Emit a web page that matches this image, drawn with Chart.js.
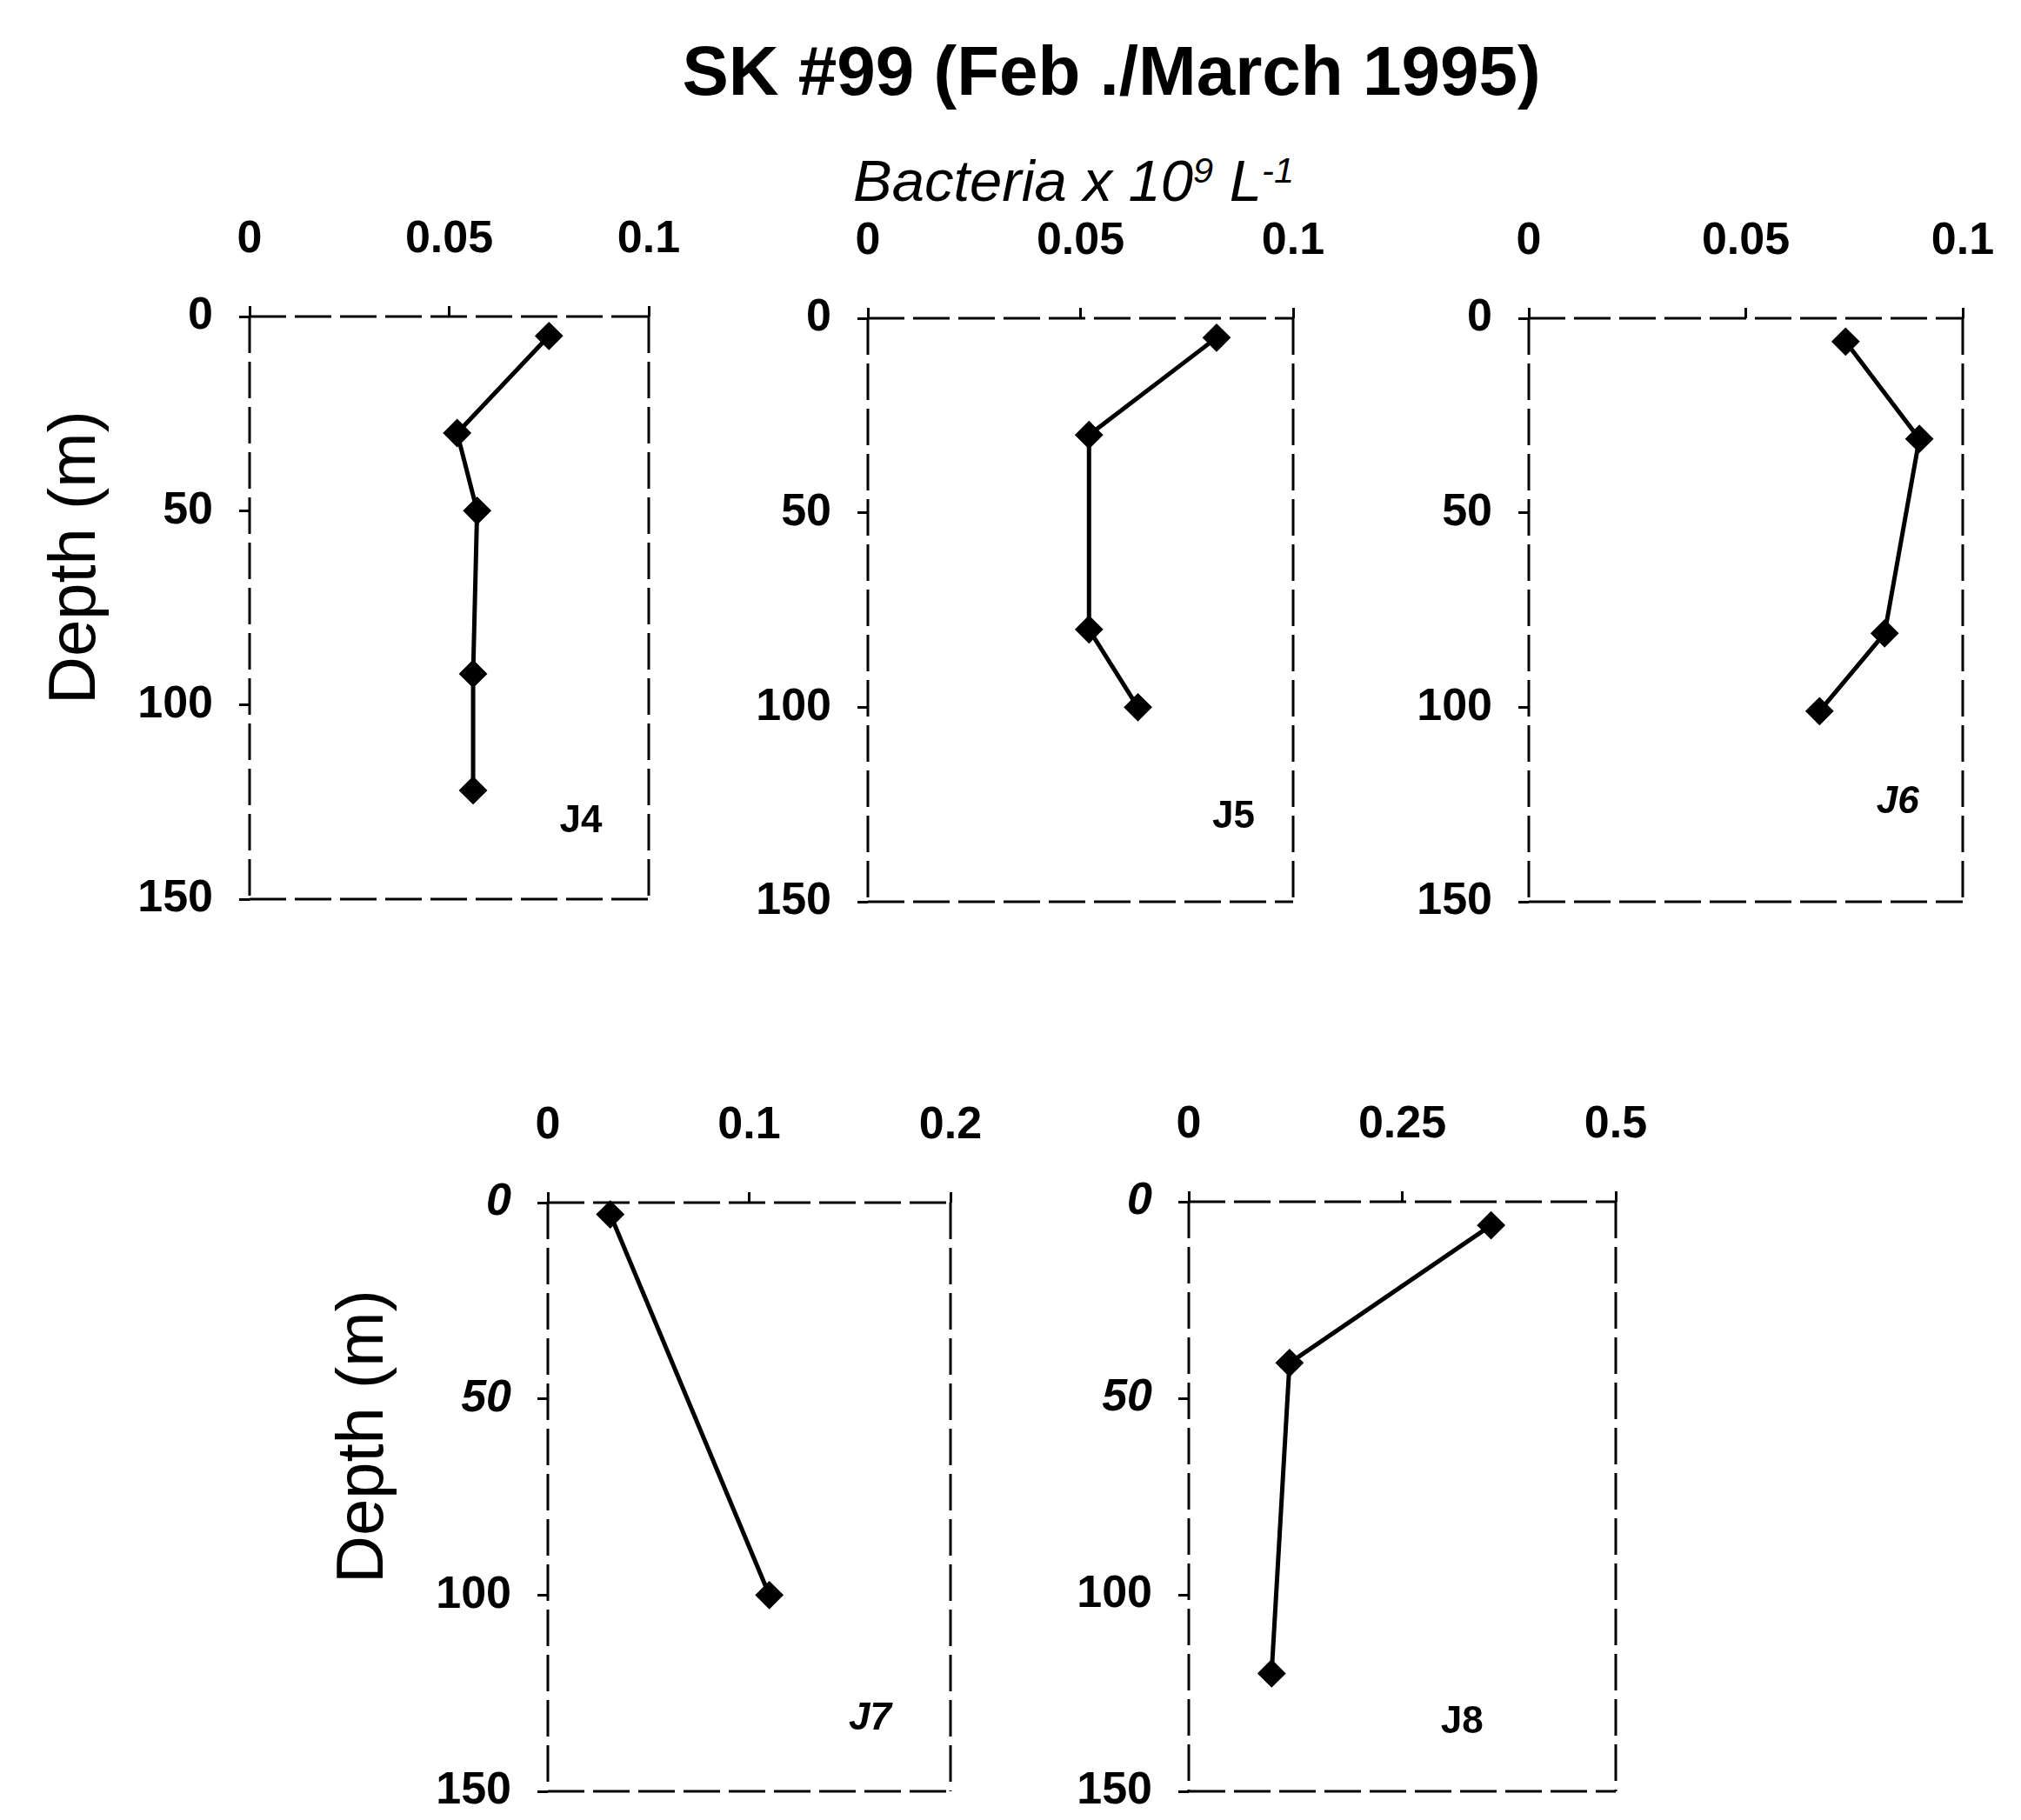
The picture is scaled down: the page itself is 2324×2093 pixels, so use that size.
<!DOCTYPE html>
<html>
<head>
<meta charset="utf-8">
<script src="https://cdn.jsdelivr.net/npm/chart.js@4.4.1/dist/chart.umd.min.js"></script>
<style>
html, body { margin: 0; padding: 0; background: #fff; overflow: hidden; }
#fig { position: relative; width: 2324px; height: 2093px; overflow: hidden; background: #fff;
       font-family: "Liberation Sans", Arial, sans-serif; color: #000; }
.lbl { position: absolute; white-space: nowrap; }
#fig canvas { position: absolute; }
sup { font-size: 0.62em; vertical-align: 0.5em; line-height: 0; }
</style>
</head>
<body>
<div id="fig">
  <div class="lbl" style="left:1278px; top:42px; transform:translateX(-50%); font-size:80px; line-height:80px; font-weight:bold;">SK #99 (Feb ./March 1995)</div>
  <div class="lbl" style="left:981px; top:174px; font-size:67px; line-height:67px; font-style:italic;">Bacteria x 10<sup>9</sup> L<sup>-1</sup></div>
  <div class="lbl" style="left:83px; top:641px; transform:translate(-50%,-50%) rotate(-90deg); font-size:76px; line-height:76px;">Depth (m)</div>
  <div class="lbl" style="left:414px; top:1652px; transform:translate(-50%,-50%) rotate(-90deg); font-size:76px; line-height:76px;">Depth (m)</div>
</div>
<script>
// ---- data ----
const depthTicks = ['0', '50', '100', '150'];
const xTicksA = ['0', '0.05', '0.1'];
const xTicksJ7 = ['0', '0.1', '0.2'];
const xTicksJ8 = ['0', '0.25', '0.5'];

const stations = ['J4', 'J5', 'J6', 'J7', 'J8'];

const depthJ4 = [5, 30, 50, 92, 122];
const bactJ4 = [0.075, 0.052, 0.057, 0.056, 0.056];

const depthJ5 = [5, 30, 80, 100];
const bactJ5 = [0.082, 0.052, 0.052, 0.0635];

const depthJ6 = [6, 31, 81, 101];
const bactJ6 = [0.073, 0.090, 0.082, 0.067];

const depthJ7 = [3, 100];
const bactJ7 = [0.031, 0.110];

const depthJ8 = [6, 41, 120];
const bactJ8 = [0.354, 0.118, 0.097];

// ---- layout (positions only) ----
const boxes = {
  J4: { l: 287,  t: 364,  r: 746,  b: 1034 },
  J5: { l: 998,  t: 366,  r: 1487, b: 1037 },
  J6: { l: 1758, t: 366,  r: 2257, b: 1037 },
  J7: { l: 630,  t: 1383, r: 1093, b: 2060 },
  J8: { l: 1367, t: 1382, r: 1858, b: 2060 }
};
const tagPos = {
  J4: [0.83, 0.867], J5: [0.86, 0.855], J6: [0.85, 0.83], J7: [0.80, 0.877], J8: [0.64, 0.884]
};

const panels = [
  { name: stations[0], depth: depthJ4, bact: bactJ4, xMax: 0.1, xStep: 0.05, xLabels: xTicksA, italicY: false, italicTag: false },
  { name: stations[1], depth: depthJ5, bact: bactJ5, xMax: 0.1, xStep: 0.05, xLabels: xTicksA, italicY: false, italicTag: false },
  { name: stations[2], depth: depthJ6, bact: bactJ6, xMax: 0.1, xStep: 0.05, xLabels: xTicksA, italicY: false, italicTag: true },
  { name: stations[3], depth: depthJ7, bact: bactJ7, xMax: 0.2, xStep: 0.1, xLabels: xTicksJ7, italicY: true, italicTag: true },
  { name: stations[4], depth: depthJ8, bact: bactJ8, xMax: 0.5, xStep: 0.25, xLabels: xTicksJ8, italicY: true, italicTag: false }
];

const FONT = '"Liberation Sans", Arial, sans-serif';
const WY = 200, HX = 140, PR = 95, PB = 75;

const tagPlugin = {
  id: 'tag',
  afterDatasetsDraw(chart, args, opts) {
    const a = chart.chartArea, ctx = chart.ctx;
    ctx.save();
    ctx.font = (opts.italic ? 'italic ' : '') + 'bold 44px ' + FONT;
    ctx.fillStyle = '#000';
    ctx.textAlign = 'center';
    ctx.textBaseline = 'middle';
    ctx.fillText(opts.text, a.left + opts.fx * (a.right - a.left), a.top + opts.fy * (a.bottom - a.top));
    ctx.restore();
  }
};

// dashed frame around the plot area (the figure's box is a broken line)
const framePlugin = {
  id: 'frame',
  beforeDatasetsDraw(chart) {
    const a = chart.chartArea, ctx = chart.ctx;
    ctx.save();
    ctx.strokeStyle = '#000';
    ctx.lineWidth = 3;
    ctx.setLineDash([42, 10]);
    ctx.beginPath();
    ctx.moveTo(a.left, a.top); ctx.lineTo(a.right, a.top);
    ctx.moveTo(a.left, a.top); ctx.lineTo(a.left, a.bottom);
    ctx.moveTo(a.left, a.bottom); ctx.lineTo(a.right, a.bottom);
    ctx.moveTo(a.right, a.top); ctx.lineTo(a.right, a.bottom);
    ctx.stroke();
    ctx.restore();
  }
};

function findLabel(list, v) {
  const f = list.find(l => Math.abs(Number(l) - v) < 1e-9);
  return f === undefined ? '' : f;
}

const fig = document.getElementById('fig');

panels.forEach(p => {
  const b = boxes[p.name];
  const w = WY + (b.r - b.l) + PR;
  const h = HX + (b.b - b.t) + PB;
  const c = document.createElement('canvas');
  c.width = w; c.height = h;
  c.style.left = (b.l - WY) + 'px';
  c.style.top = (b.t - HX) + 'px';
  c.style.width = w + 'px';
  c.style.height = h + 'px';
  fig.appendChild(c);

  const tickFont = { family: FONT, size: 52, weight: 'bold' };

  new Chart(c, {
    type: 'scatter',
    data: {
      datasets: [{
        data: p.bact.map((v, i) => ({ x: v, y: p.depth[i] })),
        showLine: true,
        borderColor: '#000',
        backgroundColor: '#000',
        borderWidth: 5,
        pointStyle: 'rectRot',
        pointRadius: 15,
        pointHoverRadius: 15,
        pointBackgroundColor: '#000',
        pointBorderColor: '#000',
        pointBorderWidth: 2,
        tension: 0,
        clip: false
      }]
    },
    options: {
      responsive: false,
      animation: false,
      devicePixelRatio: 1,
      events: [],
      layout: { padding: { left: 0, top: 0, right: PR, bottom: PB } },
      plugins: {
        legend: { display: false },
        tooltip: { enabled: false },
        tag: { text: p.name, fx: tagPos[p.name][0], fy: tagPos[p.name][1], italic: p.italicTag }
      },
      scales: {
        x: {
          type: 'linear', position: 'top', min: 0, max: p.xMax,
          ticks: { stepSize: p.xStep, autoSkip: false, maxRotation: 0, padding: 45, color: '#000',
                   font: tickFont, callback: v => findLabel(p.xLabels, v) },
          grid: { drawOnChartArea: false, tickLength: 12, lineWidth: 3, color: '#000' },
          border: { display: false },
          afterFit: s => { s.height = HX; }
        },
        y: {
          type: 'linear', position: 'left', reverse: true, min: 0, max: 150,
          ticks: { stepSize: 50, autoSkip: false, padding: 30, color: '#000',
                   font: ctx => ({ family: FONT, size: 52, weight: 'bold',
                                   style: (p.italicY && ctx.tick && ctx.tick.value < 75) ? 'italic' : 'normal' }),
                   callback: v => findLabel(depthTicks, v) },
          grid: { drawOnChartArea: false, tickLength: 12, lineWidth: 3, color: '#000' },
          border: { display: false },
          afterFit: s => { s.width = WY; }
        }
      }
    },
    plugins: [framePlugin, tagPlugin]
  });
});
</script>
</body>
</html>
